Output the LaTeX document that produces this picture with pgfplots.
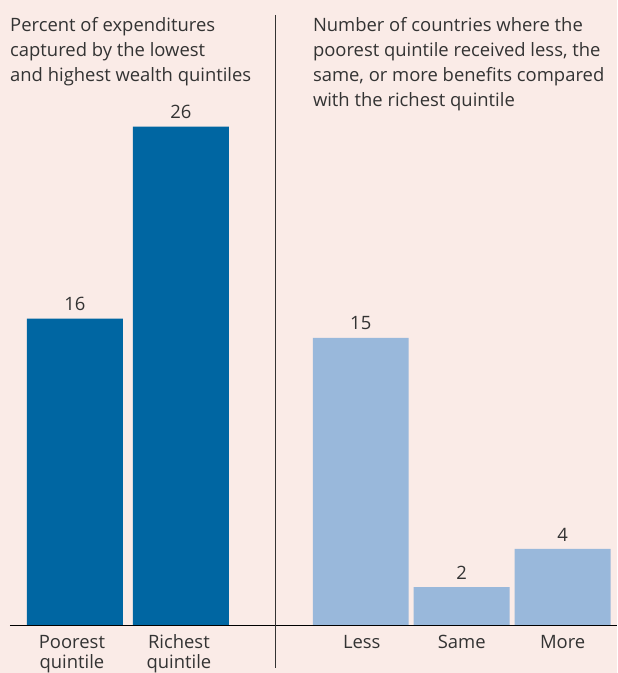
\documentclass[border=0pt]{standalone}
\usepackage{fontspec}
\setmainfont{Open Sans}
\usepackage{pgfplots}
\pgfplotsset{compat=1.18}

\definecolor{bgpink}{HTML}{FAEBE7}
\definecolor{darkblue}{HTML}{0066A2}
\definecolor{lightblue}{HTML}{99B8DB}
\definecolor{txt}{HTML}{333333}

% pixel row -> data value (baseline at row 626, 19.2 px per unit)
\newcommand{\py}[1]{(626-#1)/19.2}
\newcommand{\fs}{\fontsize{18.5}{22}\selectfont}

\begin{document}
\begin{tikzpicture}
\begin{axis}[
  scale only axis,
  width=617bp, height=673bp,
  xmin=0, xmax=617,
  ymin={-47/19.2}, ymax={626/19.2},
  axis line style={draw=none},
  xtick=\empty, ytick=\empty,
  axis background/.style={fill=bgpink},
  clip=false,
  /pgf/number format/assume math mode=true,
  nodes near coords,
  every node near coord/.style={font=\fs, text=txt,
    anchor=south, inner sep=0pt, yshift=7.5bp},
]
  \addplot[ybar, bar width=96, bar shift=0pt, fill=darkblue, draw=none]
    coordinates {(75,16) (181,26)};
  \addplot[ybar, bar width=96, bar shift=0pt, fill=lightblue, draw=none]
    coordinates {(361,15) (462,2) (563,4)};

  % baseline and divider
  \draw[black, line width=1.6bp] (axis cs:10,0) -- (axis cs:617,0);
  \draw[txt, line width=1bp] (axis cs:276,{\py{15}}) -- (axis cs:276,{\py{668}});

  \begin{scope}[every node/.style={font=\fs, text=txt, inner sep=0pt}]
    % titles, one node per line
    \node[anchor=base west] at (axis cs:10,{\py{32}}) {Percent of expenditures};
    \node[anchor=base west] at (axis cs:10,{\py{57}}) {captured by the lowest};
    \node[anchor=base west] at (axis cs:10,{\py{82}}) {and highest wealth quintiles};
    \node[anchor=base west] at (axis cs:313,{\py{32}}) {Number of countries where the};
    \node[anchor=base west] at (axis cs:313,{\py{57}}) {poorest quintile received less, the};
    \node[anchor=base west] at (axis cs:313,{\py{82}}) {same, or more benefits compared};
    \node[anchor=base west] at (axis cs:313,{\py{107}}) {with the richest quintile};
    % category labels
    \node[anchor=base] at (axis cs:72,{\py{649}}) {Poorest};
    \node[anchor=base] at (axis cs:72,{\py{669}}) {quintile};
    \node[anchor=base] at (axis cs:179,{\py{649}}) {Richest};
    \node[anchor=base] at (axis cs:179,{\py{669}}) {quintile};
    \node[anchor=base] at (axis cs:362,{\py{649}}) {Less};
    \node[anchor=base] at (axis cs:462,{\py{649}}) {Same};
    \node[anchor=base] at (axis cs:563,{\py{649}}) {More};
  \end{scope}
\end{axis}
\end{tikzpicture}
\end{document}
